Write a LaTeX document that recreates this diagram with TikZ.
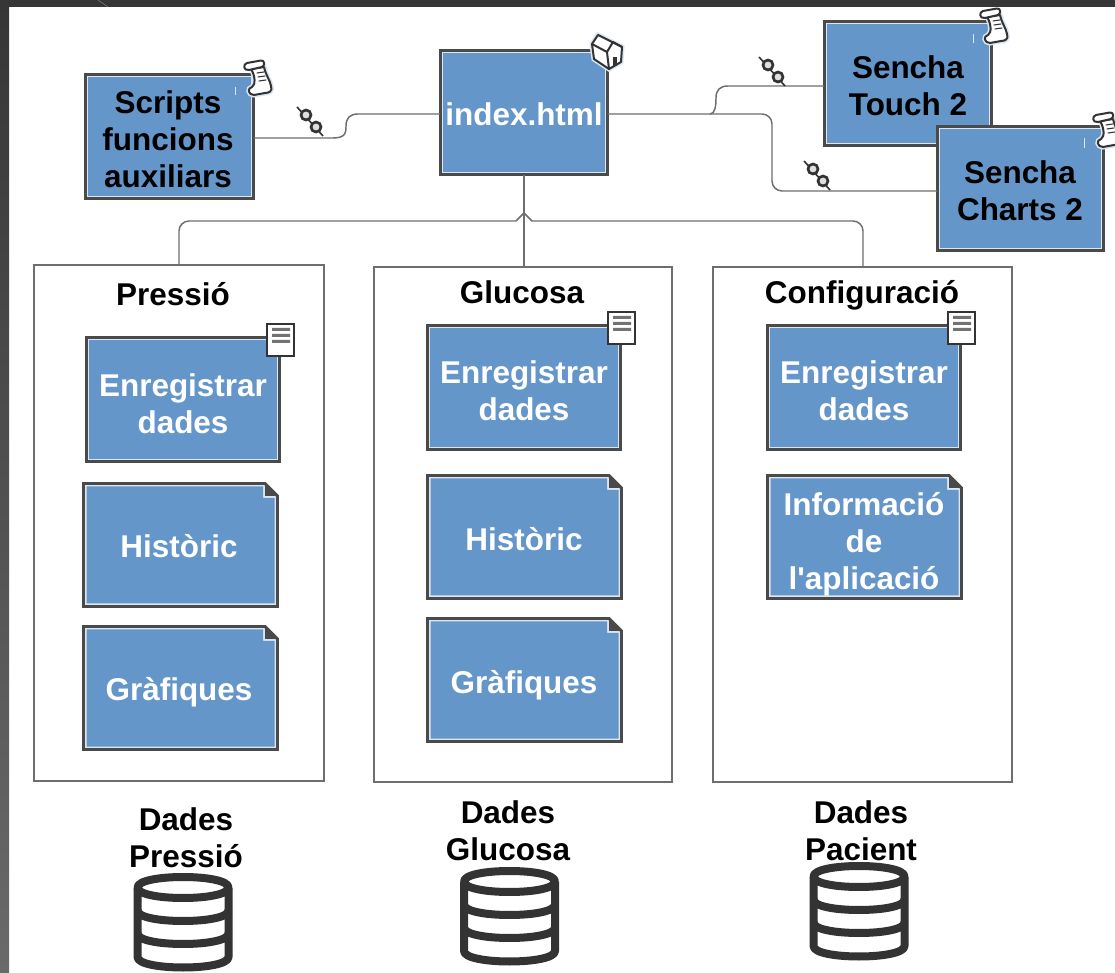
\documentclass[tikz,border=0pt]{standalone}
\usepackage{fontspec}
\setmainfont{Liberation Sans}
\newfontfamily\straightquote{Liberation Sans}
\usetikzlibrary{fit}
\definecolor{bluebox}{HTML}{6596CA}
\definecolor{edgedark}{HTML}{4A4A4A}
\definecolor{edgelight}{HTML}{DCE6F0}
\definecolor{wire}{HTML}{6E6E6E}
\definecolor{frameband}{HTML}{363636}
\definecolor{framelow}{HTML}{6A6A6A}
\definecolor{icondark}{HTML}{333333}
\tikzset{
  x=0.75pt,y=-0.75pt,
  lab/.style={font=\fontsize{23.6}{27.7}\selectfont\bfseries,align=center,inner sep=0pt,text height=17pt,text depth=0pt},
  whitelab/.style={lab,text=white},
  blacklab/.style={lab,text=black},
  solidbox/.style={inner sep=-1.1pt,outer sep=0pt,draw=edgedark,fill=bluebox,line width=2.2pt,
    path picture={\draw[edgelight,line width=4pt] (path picture bounding box.south west) rectangle (path picture bounding box.north east);}},
  foldanchor/.style={inner sep=0pt,outer sep=0pt},
  foldshape/.style={draw=edgedark,fill=edgelight,line width=2.2pt,line join=miter},
  container/.style={draw=wire,line width=0.8pt,fill=white,inner sep=0pt,outer sep=0pt},
  wireplain/.style={draw=wire,line width=1.1pt},
  wireline/.style={wireplain,rounded corners=7.5pt},
  iconline/.style={draw=icondark,line width=1.5pt,line join=round,line cap=round},
  halo/.style={preaction={draw=edgelight,line width=3.8pt}},
  dbline/.style={draw=icondark,line width=6pt,line join=round},
}
% folded-corner page
\newcommand{\foldbox}[5]{%
  \draw[foldshape] (#2+1.5,#3+1.5) -- (#4-14,#3+1.5) -- (#4-1.5,#3+14) -- (#4-1.5,#5-1.5) -- (#2+1.5,#5-1.5) -- cycle;
  \fill[bluebox] (#2+4.5,#3+4.5) -- (#4-16,#3+4.5) -- (#4-16,#3+16) -- (#4-4.5,#3+16) -- (#4-4.5,#5-4.5) -- (#2+4.5,#5-4.5) -- cycle;
  \fill[edgedark] (#4-14,#3+1.5) -- (#4-1.5,#3+14) -- (#4-14,#3+14) -- cycle;
  \node[foldanchor,fit={(#2,#3)(#4,#5)}] (#1) {};
}
% scroll icon
\newcommand{\scrollicon}[2]{%
  \begin{scope}[shift={(#1,#2)}]
    \draw[iconline,fill=white,halo] (8,9) -- (21,7) .. controls (23,16) and (27,20) .. (28,26) .. controls (30,31) and (26,33) .. (22,33) -- (11,35) .. controls (5,35) and (4,28) .. (9,27) .. controls (13,25) and (12,15) .. (8,9) -- cycle;
    \draw[iconline,fill=white] (4,3) -- (18,0.5) .. controls (22,0) and (22,6) .. (19,7) -- (6,10) .. controls (0,11) and (0,4) .. (4,3) -- cycle;
    \draw[iconline,line width=0.8pt] (14,13) -- (21,12) (15,17) -- (22,16) (16,21) -- (23,20);
  \end{scope}}
% document icon
\newcommand{\docicon}[2]{%
  \begin{scope}[shift={(#1,#2)}]
    \draw[draw=icondark,fill=white,line width=1.7pt] (0,0) rectangle (27,32);
    \fill[gray!90!black] (5,4) rectangle (23,7) (5,10) rectangle (23,13) (5,16) rectangle (23,19);
  \end{scope}}
% database icon
\newcommand{\dbicon}[2]{%
  \begin{scope}[shift={(#1,#2)}]
    \draw[dbline] (-45.5,13.5) .. controls (-45.5,-0.5) and (45.5,-0.5) .. (45.5,13.5) .. controls (45.5,27.5) and (-45.5,27.5) .. (-45.5,13.5) -- cycle;
    \draw[dbline] (-45.5,13.5) -- (-45.5,83) .. controls (-45.5,97) and (45.5,97) .. (45.5,83) -- (45.5,13.5);
    \draw[dbline] (-45.5,36.5) .. controls (-45.5,50.5) and (45.5,50.5) .. (45.5,36.5);
    \draw[dbline] (-45.5,59.5) .. controls (-45.5,73.5) and (45.5,73.5) .. (45.5,59.5);
  \end{scope}}
% link icon
\newcommand{\linkicon}[2]{%
  \begin{scope}[shift={(#1,#2)}]
    \draw[draw=icondark,line width=1.2pt] (0,0) -- (26,29);
    \draw[draw=icondark,fill=gray!25,line width=2pt] (9,8) circle (5) (19,20) circle (5);
  \end{scope}}
\begin{document}
\begin{tikzpicture}
\useasboundingbox (0,0) rectangle (1115,973);
\fill[white] (0,0) rectangle (1115,973);
% window frame
\shade[top color=frameband,bottom color=framelow] (0,0) rectangle (9,973);
\fill[frameband] (0,0) rectangle (1115,7);
\draw[gray,line width=0.4pt] (98,0) -- (108,7);
% containers
\node[container,fit={(34,265)(324,781)}] (cpress) {};
\node[container,fit={(374,267)(672,782)}] (cgluc) {};
\node[container,fit={(713,267)(1012,782)}] (cconf) {};
% top boxes
\node[solidbox,fit={(84,73)(255,200)}] (scripts) {};
\node[solidbox,fit={(439,49)(609,176)}] (index) {};
\node[solidbox,fit={(823,20)(993,147)}] (touch) {};
\node[solidbox,fit={(936,125)(1105,252)}] (charts) {};
\node[blacklab] (tscripts) at (168,176) {Scripts\\funcions\\auxiliars};
\node[whitelab] (tindex) at (524,114) {index.html};
\node[blacklab] (ttouch) at (908,104) {Sencha\\Touch 2};
\node[blacklab] (tcharts) at (1020,209) {Sencha\\Charts 2};
% titles
\node[blacklab] (tpress) at (173,294) {Pressió};
\node[blacklab] (tgluc) at (522,292) {Glucosa};
\node[blacklab] (tconf) at (862,292) {Configuració};
% column boxes
\node[solidbox,fit={(85,336)(281,463)}] (enr1) {};
\foldbox{hist1}{82}{482}{279}{608}
\foldbox{graf1}{82}{625}{279}{751}
\node[solidbox,fit={(426,324)(622,451)}] (enr2) {};
\foldbox{hist2}{426}{474}{623}{600}
\foldbox{graf2}{426}{617}{623}{743}
\node[solidbox,fit={(766,324)(962,451)}] (enr3) {};
\foldbox{info3}{766}{474}{963}{600}
\node[whitelab] (tenr1) at (183,422) {Enregistrar\\dades};
\node[whitelab] (thist1) at (179,546) {Històric};
\node[whitelab] (tgraf1) at (179,689) {Gràfiques};
\node[whitelab] (tenr2) at (524,409) {Enregistrar\\dades};
\node[whitelab] (thist2) at (524,539) {Històric};
\node[whitelab] (tgraf2) at (524,682) {Gràfiques};
\node[whitelab] (tenr3) at (864,409) {Enregistrar\\dades};
\node[whitelab] (tinfo3) at (864,578) {Informació\\de\\l{\straightquote\bfseries '}aplicació};
% data labels
\node[blacklab] (dpress) at (186,856) {Dades\\Pressió};
\node[blacklab] (dgluc) at (508,849) {Dades\\Glucosa};
\node[blacklab] (dpac) at (861,849) {Dades\\Pacient};
\dbicon{183}{874}
\dbicon{509.5}{868}
\dbicon{859}{863}
% connectors
\draw[wireplain] (scripts.east |- 0,138) -- (333,138) .. controls (347,138) and (346,131) .. (346,126) .. controls (346,118) and (350,114) .. (358,114) -- (index.west |- 0,114);
\draw[wireline] (index.east |- 0,114) -- (772,114) -- (772,191) -- (charts.west |- 0,191);
\draw[wireplain] (710,114) .. controls (715,114) and (716,106) .. (716,98) .. controls (716,90) and (720,86) .. (728,86) -- (touch.west |- 0,86);
\draw[wireplain] (index.south) -- (cgluc.north -| index.south);
\draw[wireline] (516,221) -- (179,221) -- (cpress.north -| 179,0);
\draw[wireline] (532,221) -- (863,221) -- (cconf.north -| 863,0);
\draw[wireplain] (516,221) -- (524,213) -- (532,221);
% small marks and icons
\linkicon{297}{107}
\linkicon{759}{57}
\linkicon{804}{161}
\draw[edgelight,line width=0.7pt] (235,87) -- (235,95) (973,34) -- (973,43) (1084,138) -- (1084,148);
\scrollicon{243}{60}
\scrollicon{979}{8}
\scrollicon{1092}{112}
\docicon{267}{324}
\docicon{608}{312}
\docicon{948}{312}
% house icon
\draw[iconline,fill=white,halo] (598,35) -- (622,47) -- (621,62) -- (609,69) -- (594,59) -- (592,44) -- cycle;
\draw[iconline] (592,44) -- (607,52) -- (613,42) (613,42) -- (622,47) (607,52) -- (609,69);
\fill[icondark] (613,57) rectangle (617,66);
\end{tikzpicture}
\end{document}
